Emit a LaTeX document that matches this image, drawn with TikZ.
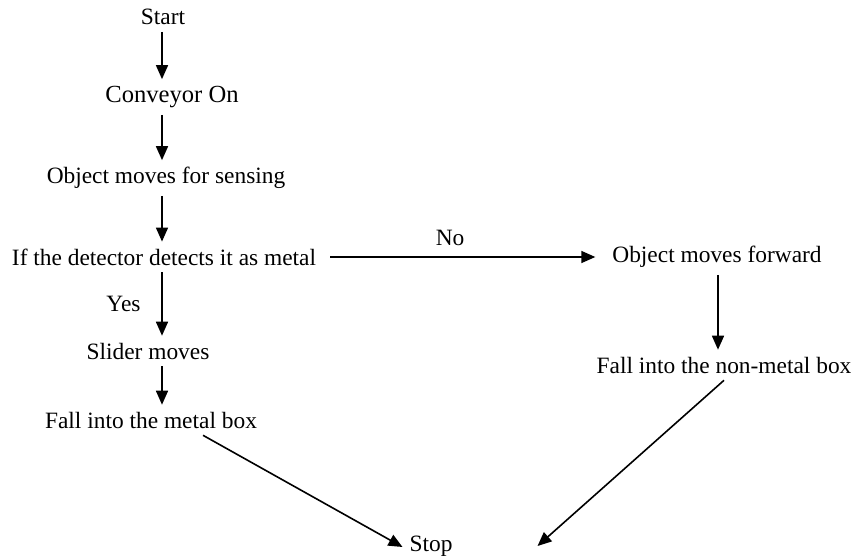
\documentclass[tikz,border=0pt]{standalone}
\usepackage{fontspec}
\setmainfont{Liberation Serif}
\usetikzlibrary{arrows.meta}
\tikzset{
	steptext/.style={font=\fontsize{11.7}{14}\selectfont},
	flow/.style={-{Triangle[length=7pt,width=6pt]}, line width=0.8pt},
}
\begin{document}
\begin{tikzpicture}[x=0.5pt,y=-0.5pt]
		\useasboundingbox (0,0) rectangle (852,556);
		\node[steptext] (start) at (163,17) {Start};
		\node[font=\fontsize{12.3}{14}\selectfont] (conveyor) at (172,97) {Conveyor On};
		\node[steptext] (sensing) at (166,178) {Object moves for sensing};
		\node[steptext] (detect) at (164,257) {If the detector detects it as metal};
		\node[steptext] (forward) at (717,257) {Object moves forward};
		\node[steptext] (slider) at (148,351) {Slider moves};
		\node[steptext] (metalbox) at (151,420) {Fall into the metal box};
		\node[steptext] (nonmetalbox) at (724,365) {Fall into the non-metal box};
		\node[steptext] (stop) at (431,546) {Stop};
		\draw[flow] ([xshift=-0.5pt]start.south) to ([xshift=-5pt]conveyor.north);
		\draw[flow] ([xshift=-5pt]conveyor.south) to ([xshift=-2pt]sensing.north);
		\draw[flow] ([xshift=-1pt]detect.south) to node[steptext, left=7pt] {Yes} ([xshift=7pt]slider.north);
		\draw[flow] ([xshift=-2pt]sensing.south) to ([xshift=-1pt]detect.north);
		\draw[flow] ([xshift=7pt]slider.south) to ([xshift=5.5pt]metalbox.north);
		\draw[flow, shorten <=3.5pt, shorten >=5pt] (detect.east) to node[steptext, above=2pt, pos=0.45] {No} (forward.west);
		\draw[flow] ([xshift=0.5pt]forward.south) to ([xshift=-3pt]nonmetalbox.north);
		\draw[flow] ([xshift=26pt]metalbox.south) to ([yshift=-0.5pt]stop.west);
		\draw[flow] (nonmetalbox.south) to ([xshift=39pt]stop.east);
		\end{tikzpicture}
\end{document}
